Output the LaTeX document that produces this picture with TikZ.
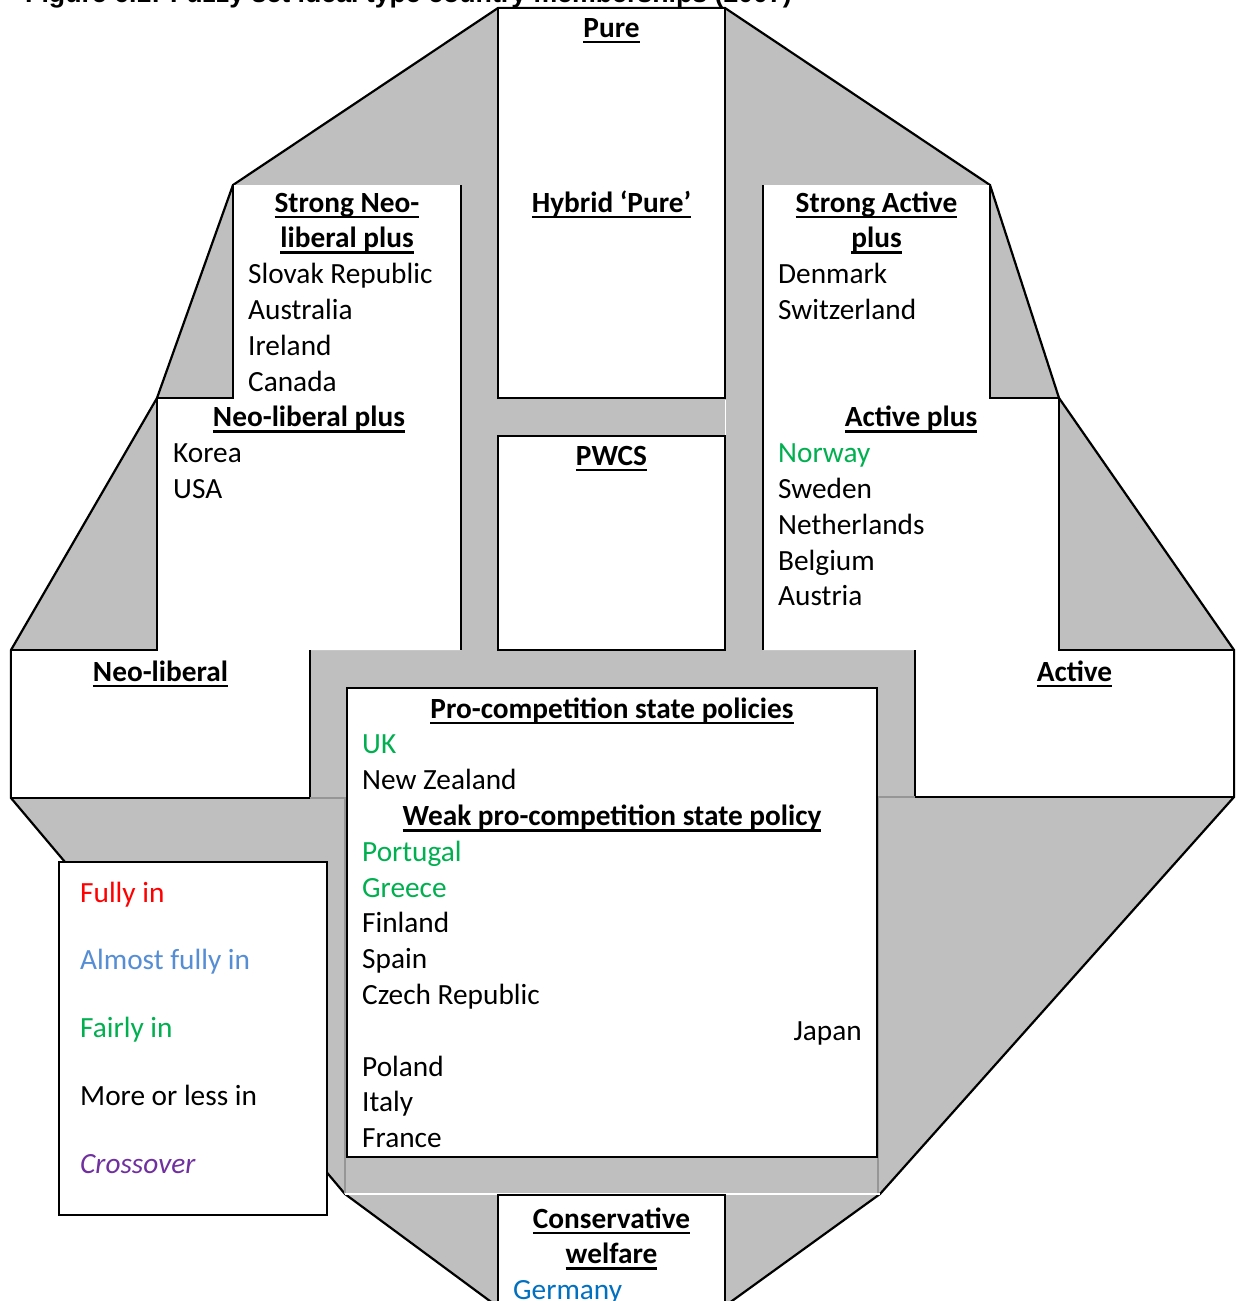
\documentclass[tikz,border=0pt]{standalone}
\usepackage{fontspec}
\setmainfont{Carlito}
\newfontfamily\titlefont{Liberation Sans}
\definecolor{gfill}{RGB}{191,191,191}
\definecolor{gline}{RGB}{150,150,150}
\definecolor{cgreen}{RGB}{0,176,80}
\definecolor{cred}{RGB}{255,0,0}
\definecolor{cblue}{RGB}{85,142,213}
\definecolor{cdblue}{RGB}{0,112,192}
\definecolor{cpurple}{RGB}{112,48,160}
\newcommand{\myhd}[1]{\setbox0\hbox{\bfseries #1}\rlap{\rule[-6.3pt]{\wd0}{2.8pt}}\box0}
\begin{document}
\begin{tikzpicture}[x=1pt,y=-1pt,
  txt/.style={inner sep=0pt, font=\fontsize{29.3}{35.8}\selectfont},
  lft/.style={txt, anchor=base west},
  ctr/.style={txt, anchor=base},
  rgt/.style={txt, anchor=base east},
  edge/.style={line width=2.2pt, draw=black, line join=miter},
  thinl/.style={line width=1.2pt, draw=gline}]
\useasboundingbox (0,0) rectangle (1241,1301);
\fill[white] (0,0) rectangle (1241,1301);

% title (cut off at top)
\node[anchor=base west, inner sep=0pt, font=\titlefont\bfseries\fontsize{26.7}{32}\selectfont] (title) at (25,2) {Figure 6.1: Fuzzy set ideal type country memberships (2007)};

% outer gray shape
\filldraw[fill=gfill, edge] (498,8) -- (725,8) -- (990,185) -- (1059,398) -- (1234,650) -- (1234,797) -- (880,1194) -- (725,1306) -- (498,1307) -- (345,1194) -- (11,798) -- (11,650) -- (157,398) -- (233,185) -- cycle;

% left white region
\fill[white] (233,185) -- (461,185) -- (461,650) -- (310,650) -- (310,798) -- (11,798) -- (11,650) -- (157,650) -- (157,398) -- (233,398) -- cycle;
\draw[edge] (233,185) -- (233,398) -- (157,398);
\draw[edge] (157,398) -- (157,650) -- (11,650);
\draw[edge] (461,185) -- (461,650);
\draw[edge] (310,650) -- (310,798) -- (11,798) -- (11,650);

% right white region
\fill[white] (763,185) -- (990,185) -- (990,398) -- (1059,398) -- (1059,650) -- (1234,650) -- (1234,797) -- (915,797) -- (915,650) -- (763,650) -- cycle;
\draw[edge] (763,185) -- (763,650);
\draw[edge] (990,185) -- (990,398) -- (1059,398) -- (1059,650) -- (1234,650) -- (1234,797) -- (915,797) -- (915,650);

% faint lines in the central band
\draw[thinl] (310,798) -- (345,798) -- (345,1194);
\draw[thinl] (915,797) -- (878,797) -- (878,1194);
\draw[draw=white, line width=1.5pt] (345,1194) -- (880,1194);
\draw[draw=white, line width=1pt] (725,400) -- (725,435);

% boxes
\filldraw[fill=white, edge] (498,8) rectangle (725,398);
\filldraw[fill=white, edge] (498,436) rectangle (725,650);
\filldraw[fill=white, edge] (347,688) rectangle (877,1157);
\filldraw[fill=white, edge] (59,862) rectangle (327,1215);
\filldraw[fill=white, edge] (498,1195) rectangle (725,1330);

% Pure column
\node[ctr] (pure) at (611.5,37) {\myhd{Pure}};
\node[ctr] (hybrid) at (611.5,212) {\myhd{Hybrid ‘Pure’}};
\node[ctr] (pwcs) at (611.5,465) {\myhd{PWCS}};

% Strong Neo-liberal plus
\node[ctr] (snl1) at (347,212) {\myhd{Strong Neo-}};
\node[ctr] (snl2) at (347,247.8) {\myhd{liberal plus}};
\node[lft] (slovak) at (248,283.6) {Slovak Republic};
\node[lft] (australia) at (248,319.4) {Australia};
\node[lft] (ireland) at (248,355.2) {Ireland};
\node[lft] (canada) at (248,391) {Canada};
\node[ctr] (nlp) at (309,426.8) {\myhd{Neo-liberal plus}};
\node[lft] (korea) at (173,462.6) {Korea};
\node[lft] (usa) at (173,498.4) {USA};

% Strong Active plus
\node[ctr] (sap1) at (876.5,212) {\myhd{Strong Active}};
\node[ctr] (sap2) at (876.5,247.8) {\myhd{plus}};
\node[lft] (denmark) at (778,283.6) {Denmark};
\node[lft] (switz) at (778,319.4) {Switzerland};
\node[ctr] (ap) at (911,426.8) {\myhd{Active plus}};
\node[lft, text=cgreen] (norway) at (778,462.6) {Norway};
\node[lft] (sweden) at (778,498.4) {Sweden};
\node[lft] (nether) at (778,534.2) {Netherlands};
\node[lft] (belgium) at (778,570) {Belgium};
\node[lft] (austria) at (778,605.8) {Austria};

% Neo-liberal / Active
\node[ctr] (nl) at (160.5,681) {\myhd{Neo-liberal}};
\node[ctr] (act) at (1074.5,681) {\myhd{Active}};

% Pro-competition
\node[ctr] (pcs) at (612,718) {\myhd{Pro-competition state policies}};
\node[lft, text=cgreen] (uk) at (362,753.8) {UK};
\node[lft] (nz) at (362,789.6) {New Zealand};
\node[ctr] (wpcs) at (612,825.4) {\myhd{Weak pro-competition state policy}};
\node[lft, text=cgreen] (portugal) at (362,861.2) {Portugal};
\node[lft, text=cgreen] (greece) at (362,897) {Greece};
\node[lft] (finland) at (362,932.8) {Finland};
\node[lft] (spain) at (362,968.6) {Spain};
\node[lft] (czech) at (362,1004.4) {Czech Republic};
\node[rgt] (japan) at (862,1040.2) {Japan};
\node[lft] (poland) at (362,1076) {Poland};
\node[lft] (italy) at (362,1111.8) {Italy};
\node[lft] (france) at (362,1147.6) {France};

% legend
\node[lft, text=cred] (l1) at (80,902) {Fully in};
\node[lft, text=cblue] (l2) at (80,969) {Almost fully in};
\node[lft, text=cgreen] (l3) at (80,1037) {Fairly in};
\node[lft] (l4) at (80,1105) {More or less in};
\node[lft, text=cpurple, font=\fontsize{29.3}{35.8}\selectfont\itshape] (l5) at (80,1173) {Crossover};

% Conservative welfare
\node[ctr] (cw1) at (611.5,1228) {\myhd{Conservative}};
\node[ctr] (cw2) at (611.5,1263.8) {\myhd{welfare}};
\node[lft, text=cdblue] (germany) at (513,1299.6) {Germany};
\end{tikzpicture}
\end{document}
